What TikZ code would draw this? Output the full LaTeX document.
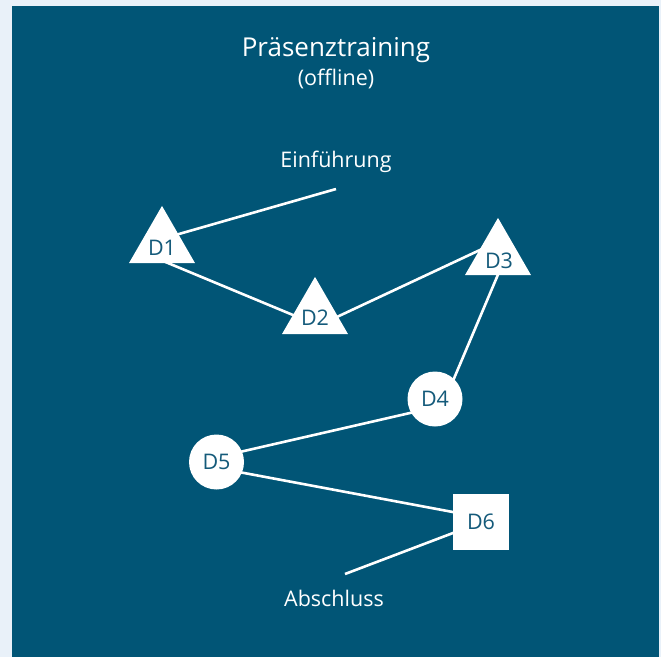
\documentclass[tikz,border=0pt]{standalone}
\usepackage{fontspec}
\setmainfont{Open Sans}
\usetikzlibrary{shapes.geometric}
\definecolor{pagebg}{RGB}{233,241,249}
\definecolor{teal}{RGB}{1,85,118}
\definecolor{labeltxt}{RGB}{20,90,122}
\pgfdeclarelayer{back}
\pgfdeclarelayer{edges}
\pgfsetlayers{back,edges,main}
\tikzset{
  tri/.style={regular polygon, regular polygon sides=3, minimum size=76.2, inner sep=0, outer sep=0, fill=white, draw=none},
  circ/.style={circle, minimum size=55, inner sep=0, outer sep=0, fill=white, draw=none, text=labeltxt, font=\fontsize{21.5}{24}\selectfont},
  sq/.style={rectangle, minimum size=56, inner sep=0, outer sep=0, fill=white, draw=none, text=labeltxt, font=\fontsize{21.5}{24}\selectfont},
  dlabel/.style={inner sep=0, text=labeltxt, font=\fontsize{21.5}{24}\selectfont},
  caption/.style={inner sep=0, text=white},
  conn/.style={draw=white, line width=2.6pt},
}
\begin{document}
\begin{tikzpicture}[x=1pt,y=-1pt]
\useasboundingbox (0,0) rectangle (661,657);
\begin{pgfonlayer}{back}
  \fill[pagebg] (0,0) rectangle (661,657);
  \fill[teal] (12,6) rectangle (659,657);
\end{pgfonlayer}
% titles
\node[caption, font=\fontsize{26}{30}\selectfont] (title) at (336,50) {Präsenztraining};
\node[caption, font=\fontsize{21.5}{24}\selectfont] (sub) at (336,79) {(offline)};
\node[caption, font=\fontsize{21.5}{24}\selectfont] (ein) at (336,162) {Einführung};
\node[caption, font=\fontsize{21.5}{24}\selectfont] (abs) at (334,598) {Abschluss};
% shapes
\node[tri] (d1) at (162,244) {};
\node[tri] (d2) at (315,315) {};
\node[tri] (d3) at (498,256) {};
\node[circ] (d4) at (435,399) {D4};
\node[circ] (d5) at (216.5,462) {D5};
\node[sq] (d6) at (481,522) {D6};
\node[dlabel] (d1t) at (162,248) {D1};
\node[dlabel] (d2t) at (315,318) {D2};
\node[dlabel] (d3t) at (499,261) {D3};
% free ends
\coordinate (einend) at (336,189);
\coordinate (absend) at (345,574);
\begin{pgfonlayer}{edges}
  \draw[conn] (einend) -- ([shift={(3,-6)}]d1.center);
  \draw[conn] ([shift={(-2,15.7)}]d1.center) -- ([shift={(-10,5)}]d2.center);
  \draw[conn] ([shift={(15,5.2)}]d2.center) -- ([shift={(-8,-10.7)}]d3.center);
  \draw[conn] ([shift={(3.2,11)}]d3.center) -- ([shift={(15.8,-13)}]d4.center);
  \draw[conn] ([shift={(-15,11.7)}]d4.center) -- ([shift={(17.5,-8.7)}]d5.center);
  \draw[conn] ([shift={(17.5,9.1)}]d5.center) -- ([shift={(-18,-8.1)}]d6.center);
  \draw[conn] ([shift={(-18,7.2)}]d6.center) -- (absend);
\end{pgfonlayer}
\end{tikzpicture}
\end{document}
